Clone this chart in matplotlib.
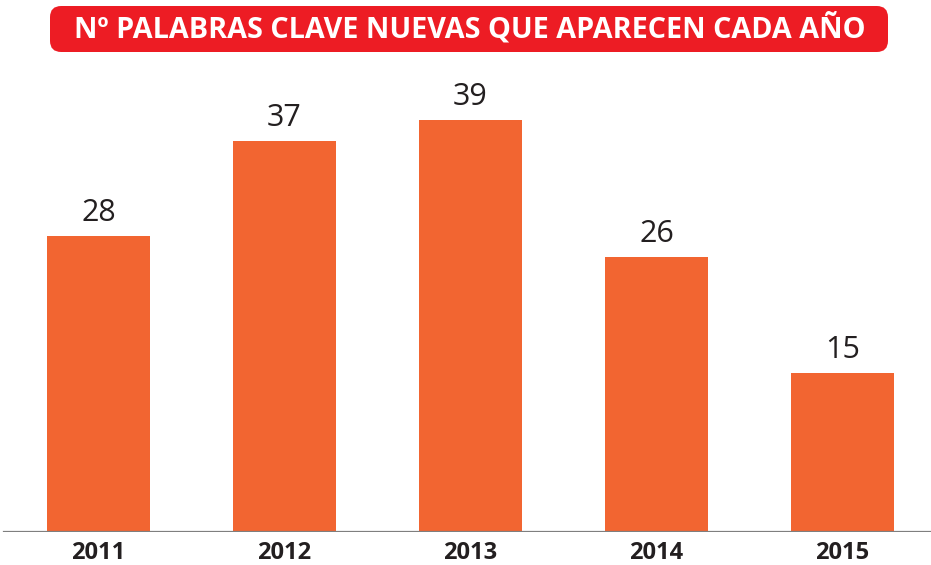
import matplotlib
matplotlib.use("Agg")
import matplotlib.pyplot as plt
from matplotlib.patches import FancyBboxPatch

years = ["2011", "2012", "2013", "2014", "2015"]
keywords = [28, 37, 39, 26, 15]
title = "Nº PALABRAS CLAVE NUEVAS QUE APARECEN CADA AÑO"

plt.rcParams['font.family'] = ['Open Sans', 'DejaVu Sans']

fig = plt.figure(figsize=(9.31, 5.65), dpi=100)
ax = fig.add_axes([0, 33.5 / 565, 1, 531.5 / 565])

x = list(range(len(years)))
bars = ax.bar(x, keywords, width=0.554, color="#F26531", zorder=2)
for b, v in zip(bars, keywords):
    ax.annotate(str(v), (b.get_x() + b.get_width() / 2, v), xytext=(0, 6),
                textcoords="offset points", ha="center", va="bottom",
                fontsize=22, color="#231F20")

ax.axhline(0, xmin=4 / 931, xmax=1, color="#7f7f7f", lw=1.6, zorder=3)
ax.set_xlim(-98.5 / 186, (931 - 98.5) / 186)
ax.set_ylim(0, 531.5 / 10.55)
ax.set_xticks(x)
ax.set_xticklabels(years, fontsize=17, fontweight="bold", color="#231F20")
ax.tick_params(axis="x", length=0, pad=7)
ax.set_yticks([])
for s in ax.spines.values():
    s.set_visible(False)

# red title banner
box = FancyBboxPatch((50 / 931, 1 - 52 / 565), 838 / 931, 46 / 565,
                     boxstyle="round,pad=0,rounding_size=0.012",
                     transform=fig.transFigure, facecolor="#ED1C24",
                     edgecolor="none", mutation_aspect=931 / 565)
fig.patches.append(box)
fig.text(470 / 931, 1 - 29 / 565, title, ha="center", va="center",
         fontsize=20.7, fontweight="bold", color="white")

fig.savefig("out.png", dpi=100)
